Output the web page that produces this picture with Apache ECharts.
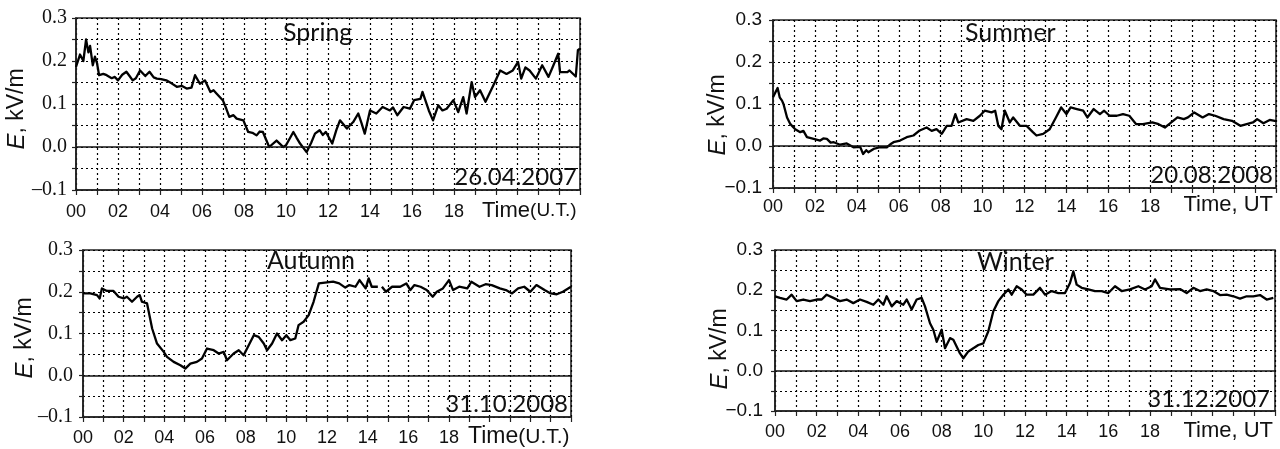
<!DOCTYPE html>
<html>
<head>
<meta charset="utf-8">
<title>E-field seasons</title>
<script src="https://cdn.jsdelivr.net/npm/echarts@6/dist/echarts.min.js"></script>
<style>
    html, body { margin: 0; padding: 0; background: #fff; }
    #main { width: 1280px; height: 449px; }
</style>
</head>
<body>
<div id="main"></div>
<script>
// [hour UT, E kV/m]
var springData = [[0,0.186],[0.19,0.215],[0.35,0.2],[0.48,0.25],[0.59,0.22],[0.67,0.235],[0.8,0.19],[0.9,0.21],[1.0,0.195],[1.1,0.167],[1.3,0.17],[1.46,0.167],[1.7,0.16],[1.85,0.163],[2.0,0.155],[2.2,0.168],[2.4,0.175],[2.55,0.165],[2.7,0.155],[2.85,0.16],[3.05,0.178],[3.3,0.165],[3.5,0.175],[3.7,0.162],[3.85,0.159],[4.05,0.158],[4.3,0.155],[4.55,0.148],[4.8,0.14],[5.05,0.142],[5.27,0.136],[5.5,0.138],[5.67,0.167],[5.9,0.147],[6.14,0.155],[6.4,0.128],[6.55,0.132],[6.7,0.124],[7.0,0.108],[7.15,0.09],[7.3,0.07],[7.5,0.074],[7.65,0.066],[7.97,0.062],[8.2,0.035],[8.4,0.033],[8.6,0.027],[8.75,0.036],[8.9,0.035],[9.2,0.0],[9.55,0.015],[9.7,0.008],[9.87,0.0],[10.0,0.004],[10.35,0.035],[10.5,0.022],[10.67,0.008],[10.98,-0.012],[11.2,0.01],[11.38,0.031],[11.6,0.039],[11.75,0.028],[11.9,0.035],[12.2,0.008],[12.4,0.04],[12.57,0.062],[12.9,0.043],[13.2,0.058],[13.44,0.078],[13.6,0.055],[13.75,0.031],[14.0,0.085],[14.3,0.078],[14.6,0.093],[14.95,0.085],[15.1,0.092],[15.3,0.074],[15.6,0.093],[15.9,0.089],[16.1,0.109],[16.4,0.112],[16.5,0.128],[16.8,0.085],[17.0,0.062],[17.25,0.097],[17.45,0.085],[17.65,0.089],[17.97,0.109],[18.2,0.081],[18.44,0.116],[18.6,0.078],[18.84,0.151],[19.0,0.116],[19.24,0.132],[19.5,0.105],[19.87,0.143],[20.2,0.178],[20.5,0.17],[20.8,0.178],[21.05,0.198],[21.2,0.159],[21.4,0.185],[21.6,0.178],[21.9,0.159],[22.2,0.19],[22.5,0.163],[22.7,0.186],[22.96,0.217],[23.05,0.174],[23.4,0.174],[23.5,0.178],[23.8,0.164],[23.9,0.225],[24,0.229]];

var summerData = [[0,0.116],[0.16,0.132],[0.22,0.138],[0.32,0.116],[0.43,0.108],[0.5,0.1],[0.67,0.068],[0.83,0.052],[1.06,0.04],[1.3,0.033],[1.45,0.036],[1.62,0.021],[1.94,0.017],[2.25,0.013],[2.4,0.018],[2.57,0.017],[2.75,0.008],[2.9,0.009],[3.2,0.003],[3.52,0.006],[3.84,-0.003],[4.16,-0.002],[4.3,-0.019],[4.45,-0.01],[4.55,-0.015],[4.8,-0.007],[5.1,-0.003],[5.43,-0.003],[5.6,0.004],[5.75,0.009],[6.06,0.013],[6.38,0.021],[6.7,0.025],[7.0,0.037],[7.33,0.044],[7.57,0.036],[7.8,0.04],[8.05,0.029],[8.29,0.048],[8.52,0.048],[8.7,0.076],[8.84,0.056],[9.24,0.064],[9.56,0.06],[9.87,0.072],[10.1,0.084],[10.43,0.08],[10.6,0.084],[10.75,0.048],[10.9,0.04],[11.06,0.084],[11.3,0.056],[11.46,0.068],[11.78,0.048],[12.1,0.048],[12.4,0.033],[12.57,0.025],[12.89,0.029],[13.2,0.04],[13.5,0.068],[13.75,0.092],[14.0,0.076],[14.2,0.092],[14.5,0.088],[14.8,0.084],[15.0,0.068],[15.3,0.088],[15.6,0.076],[15.8,0.084],[16.06,0.072],[16.4,0.072],[16.7,0.076],[17.0,0.072],[17.33,0.052],[17.65,0.052],[18.1,0.056],[18.4,0.052],[18.7,0.044],[18.9,0.052],[19.3,0.068],[19.6,0.064],[19.8,0.068],[20.1,0.08],[20.5,0.068],[20.8,0.076],[21.1,0.072],[21.5,0.064],[21.9,0.06],[22.3,0.048],[22.6,0.052],[22.9,0.056],[23.1,0.064],[23.4,0.054],[23.7,0.062],[24,0.059]];

var autumnData = [[0,0.196],[0.36,0.196],[0.69,0.192],[0.82,0.184],[0.93,0.208],[1.18,0.202],[1.5,0.202],[1.75,0.188],[2.0,0.184],[2.16,0.188],[2.41,0.176],[2.66,0.188],[2.79,0.192],[2.9,0.176],[3.15,0.172],[3.4,0.112],[3.64,0.076],[3.97,0.056],[4.13,0.044],[4.46,0.032],[4.79,0.024],[5.03,0.016],[5.28,0.028],[5.6,0.032],[5.85,0.04],[6.1,0.064],[6.43,0.06],[6.67,0.052],[6.92,0.056],[7.08,0.036],[7.41,0.052],[7.66,0.06],[7.9,0.048],[8.15,0.072],[8.4,0.096],[8.64,0.092],[8.89,0.076],[9.05,0.06],[9.3,0.076],[9.54,0.1],[9.79,0.084],[10.0,0.096],[10.2,0.084],[10.44,0.088],[10.6,0.12],[10.85,0.128],[11.1,0.144],[11.34,0.176],[11.6,0.22],[11.9,0.222],[12.3,0.224],[12.6,0.22],[12.9,0.21],[13.1,0.216],[13.4,0.212],[13.6,0.228],[13.9,0.208],[14.05,0.232],[14.2,0.212],[14.5,0.212],[14.6,null],[14.7,0.212],[14.9,0.2],[15.2,0.212],[15.6,0.212],[15.9,0.22],[16.1,0.204],[16.3,0.216],[16.6,0.212],[16.9,0.204],[17.2,0.188],[17.4,0.2],[17.7,0.208],[18.0,0.228],[18.2,0.204],[18.5,0.212],[18.9,0.208],[19.1,0.224],[19.5,0.212],[19.8,0.218],[20.1,0.216],[20.5,0.208],[20.8,0.204],[21.1,0.196],[21.4,0.208],[21.7,0.212],[22.0,0.2],[22.3,0.216],[22.7,0.204],[23.0,0.196],[23.3,0.194],[23.6,0.2],[24.0,0.212]];

var winterData = [[0,0.185],[0.24,0.181],[0.56,0.177],[0.8,0.189],[1.04,0.173],[1.36,0.177],[1.68,0.173],[2.0,0.177],[2.24,0.177],[2.48,0.189],[2.8,0.181],[3.12,0.173],[3.44,0.177],[3.76,0.168],[4.08,0.177],[4.4,0.171],[4.72,0.164],[4.96,0.177],[5.2,0.164],[5.36,0.185],[5.6,0.16],[5.84,0.173],[6.16,0.164],[6.32,0.177],[6.56,0.152],[6.8,0.177],[7.04,0.181],[7.2,0.16],[7.44,0.118],[7.6,0.102],[7.76,0.072],[8.0,0.102],[8.16,0.056],[8.4,0.081],[8.56,0.077],[8.88,0.043],[9.04,0.031],[9.28,0.048],[9.52,0.056],[9.76,0.064],[10.0,0.068],[10.24,0.098],[10.48,0.148],[10.72,0.173],[10.96,0.189],[11.2,0.202],[11.36,0.189],[11.6,0.21],[11.84,0.202],[12.08,0.189],[12.4,0.189],[12.72,0.206],[12.96,0.189],[13.28,0.198],[13.6,0.193],[13.92,0.193],[14.16,0.218],[14.32,0.247],[14.48,0.214],[14.72,0.206],[15.04,0.202],[15.36,0.198],[15.68,0.198],[16.0,0.193],[16.32,0.21],[16.64,0.198],[17.04,0.202],[17.44,0.21],[17.76,0.202],[18.08,0.21],[18.24,0.227],[18.48,0.206],[18.96,0.202],[19.44,0.203],[19.76,0.193],[20.08,0.206],[20.4,0.198],[20.72,0.202],[21.04,0.198],[21.36,0.188],[21.68,0.189],[22.0,0.185],[22.32,0.179],[22.64,0.185],[22.96,0.185],[23.28,0.188],[23.6,0.177],[23.92,0.181]];

var seasonNames = ['Spring', 'Summer', 'Autumn', 'Winter'];
var dateLabels = ['26.04.2007', '20.08.2008', '31.10.2008', '31.12.2007'];
var yTicks = [-0.1, 0.0, 0.1, 0.2, 0.3];
var xLabelHours = [0, 2, 4, 6, 8, 10, 12, 14, 16, 18];

(function () {
    var myChart = echarts.init(document.getElementById('main'));
    var sans = 'Liberation Sans';
    var serif = 'Liberation Serif';
    var ink = '#111';

    // left column = serif y labels, right column = sans
    var panels = [
        { data: springData, grid: { left: 76, top: 18, width: 504, height: 172 }, yFont: serif, ySize: 20, minus: '\u2013', xMargin: 13, yMargin: 9 },
        { data: summerData, grid: { left: 773, top: 20, width: 503, height: 168 }, yFont: sans, ySize: 19, minus: '\u2212', xMargin: 10, yMargin: 11 },
        { data: autumnData, grid: { left: 83, top: 250, width: 488, height: 167 }, yFont: serif, ySize: 20, minus: '\u2013', xMargin: 12, yMargin: 10 },
        { data: winterData, grid: { left: 775, top: 250, width: 500, height: 161 }, yFont: sans, ySize: 19, minus: '\u2212', xMargin: 12, yMargin: 12 }
    ];

    var grids = [], xAxes = [], yAxes = [], series = [];

    panels.forEach(function (p, i) {
        grids.push({
            left: p.grid.left, top: p.grid.top, width: p.grid.width, height: p.grid.height,
            show: true, borderColor: '#222', borderWidth: 1.6
        });
        xAxes.push({
            type: 'value', gridIndex: i, min: 0, max: 24, interval: 1,
            axisLine: { onZero: false, lineStyle: { color: '#222', width: 1.6 } },
            axisTick: { length: 5, lineStyle: { color: '#222', width: 1.2 } },
            axisLabel: {
                margin: p.xMargin, color: ink, fontFamily: sans, fontSize: 18,
                showMinLabel: true, showMaxLabel: true,
                formatter: function (v) {
                    if (xLabelHours.indexOf(v) < 0) return '';
                    return (v < 10 ? '0' : '') + v;
                }
            },
            splitLine: { show: true, lineStyle: { color: '#000', width: 1.2, type: [2, 3] } }
        });
        yAxes.push({
            type: 'value', gridIndex: i, min: -0.1, max: 0.3, interval: 0.05,
            axisLine: { lineStyle: { color: '#222', width: 1.6 } },
            axisTick: { length: 4, lineStyle: { color: '#222', width: 1.2 } },
            axisLabel: {
                margin: p.yMargin, color: ink, fontFamily: p.yFont, fontSize: p.ySize,
                formatter: function (v) {
                    var r = Math.round(v * 100);
                    if (r % 10 !== 0) return '';
                    var t = yTicks[(r + 10) / 10];
                    return (t < 0 ? p.minus : '') + Math.abs(t).toFixed(1);
                }
            },
            splitLine: { show: true, lineStyle: { color: '#000', width: 1.2, type: [2, 3] } }
        });
        series.push({
            name: seasonNames[i], type: 'line', xAxisIndex: i, yAxisIndex: i,
            data: p.data, showSymbol: false, connectNulls: false,
            lineStyle: { color: '#000', width: 2.3, join: 'round' },
            markLine: {
                silent: true, symbol: ['none', 'none'], label: { show: false },
                lineStyle: { color: '#111', type: 'solid', width: 1.5 },
                data: [{ yAxis: 0 }]
            }
        });
    });

    function txt(x, y, text, font, align, extra) {
        var style = { text: text, x: 0, y: 0, font: font, fill: ink, textAlign: align, textVerticalAlign: 'middle' };
        if (extra) style.rich = extra;
        return { type: 'text', x: x, y: y, style: style, silent: true };
    }

    function yName(x, y) {
        var el = txt(x, y, '{i|E}, kV/m', '23px "Liberation Sans"', 'center', {
            i: { fontStyle: 'italic', fontSize: 24, fontFamily: sans, fill: ink }
        });
        el.rotation = Math.PI / 2;
        return el;
    }

    var graphics = [
        txt(283, 33, seasonNames[0], '25px Lato', 'left'),
        txt(965, 33, seasonNames[1], '25px Lato', 'left'),
        txt(267, 261, seasonNames[2], '25px Lato', 'left'),
        txt(977, 262, seasonNames[3], '25px Lato', 'left'),
        txt(577, 177, dateLabels[0], '24px Lato', 'right'),
        txt(1273, 175, dateLabels[1], '24px Lato', 'right'),
        txt(568, 404, dateLabels[2], '24px Lato', 'right'),
        txt(1270, 399, dateLabels[3], '24px Lato', 'right'),
        txt(482, 211, '{a|Time}{b|(U.T.)}', '22px "Liberation Sans"', 'left', {
            a: { fontSize: 22, fontFamily: sans, fill: ink }, b: { fontSize: 19, fontFamily: sans, fill: ink }
        }),
        txt(468, 437, '{a|Time}{b|(U.T.)}', '22px "Liberation Sans"', 'left', {
            a: { fontSize: 23, fontFamily: sans, fill: ink }, b: { fontSize: 21, fontFamily: sans, fill: ink }
        }),
        txt(1273, 205, 'Time, UT', '22px "Liberation Sans"', 'right'),
        txt(1273, 431, 'Time, UT', '22px "Liberation Sans"', 'right'),
        yName(17, 109),
        yName(718, 115),
        yName(25, 338),
        yName(720, 349)
    ];

    var option = {
        backgroundColor: '#fff',
        animation: false,
        grid: grids,
        xAxis: xAxes,
        yAxis: yAxes,
        series: series,
        graphic: { elements: graphics }
    };

    myChart.setOption(option);

    window.addEventListener('resize', function () {
        myChart.resize();
    });
})();
</script>
</body>
</html>
